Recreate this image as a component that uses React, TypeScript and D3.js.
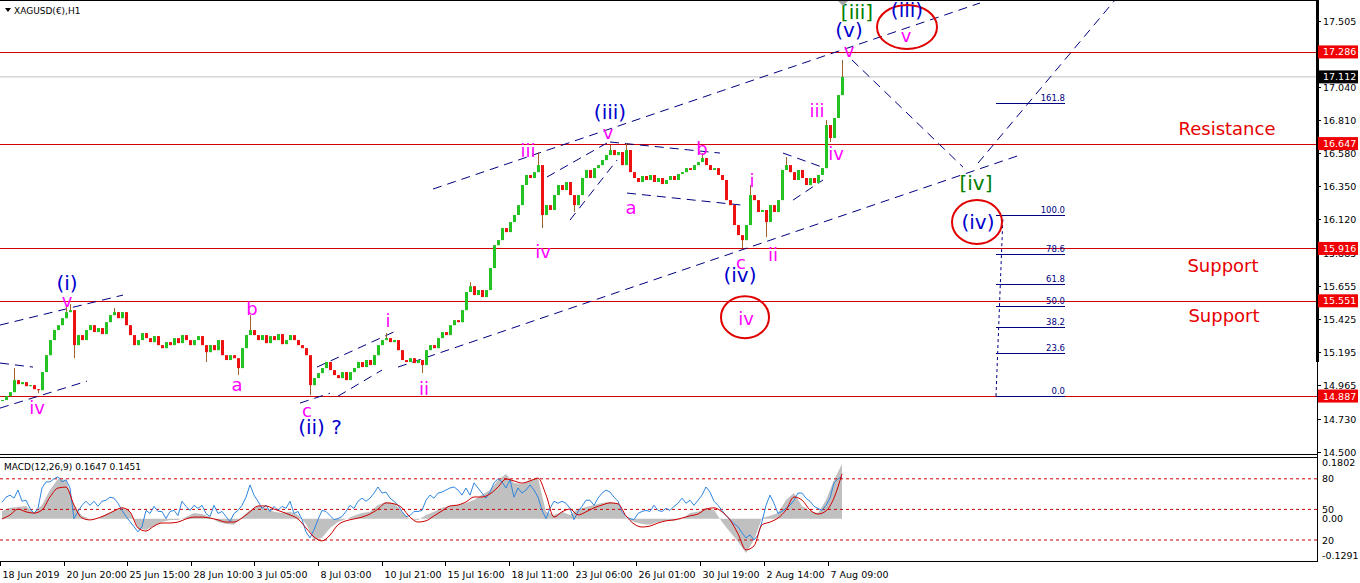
import React from "react";
import * as d3 from "d3";

// ---------- DATA ----------
const closes = [
  14.859,14.886,14.914,14.998,14.970,14.984,14.956,14.963,14.935,14.928,
  15.054,15.172,15.277,15.347,15.381,15.430,15.472,15.486,15.242,15.312,
  15.277,15.347,15.381,15.333,15.361,15.319,15.402,15.451,15.472,15.430,
  15.472,15.381,15.312,15.242,15.277,15.326,15.291,15.263,15.305,15.242,
  15.221,15.263,15.242,15.291,15.256,15.312,15.277,15.242,15.277,15.305,
  15.242,15.193,15.242,15.207,15.277,15.172,15.138,15.172,15.151,15.082,
  15.221,15.312,15.347,15.312,15.277,15.312,15.256,15.305,15.277,15.319,
  15.249,15.277,15.312,15.277,15.242,15.221,15.172,14.963,15.012,15.047,
  15.082,15.124,15.068,15.033,15.012,15.054,14.998,15.054,15.082,15.124,
  15.089,15.138,15.103,15.172,15.242,15.277,15.291,15.263,15.277,15.207,
  15.138,15.124,15.151,15.117,15.138,15.103,15.207,15.242,15.221,15.291,
  15.333,15.312,15.381,15.416,15.402,15.486,15.612,15.653,15.591,15.626,
  15.577,15.626,15.779,15.939,15.974,16.058,16.030,16.100,16.149,16.218,
  16.358,16.428,16.407,16.448,16.497,16.149,16.218,16.184,16.288,16.358,
  16.323,16.379,16.288,16.218,16.288,16.407,16.463,16.407,16.476,16.497,
  16.532,16.567,16.602,16.567,16.588,16.497,16.602,16.448,16.407,16.379,
  16.421,16.393,16.428,16.379,16.407,16.365,16.393,16.421,16.393,16.435,
  16.448,16.476,16.463,16.497,16.518,16.546,16.497,16.463,16.476,16.428,
  16.393,16.253,16.218,16.079,16.009,15.974,16.079,16.288,16.253,16.170,
  16.184,16.100,16.218,16.170,16.253,16.463,16.497,16.448,16.393,16.463,
  16.407,16.358,16.407,16.372,16.428,16.476,16.776,16.686,16.825,16.985,
  17.112,
];

// [bar index, high, low] for bars whose wick reaches beyond the body
const spikes: [number, number | null, number | null][] = [
  [3, 15.082, null], [9, null, 14.907], [16, 15.521, null], [17, 15.528, null],
  [18, null, 15.151], [28, 15.500, null], [51, null, 15.124], [59, null, 15.033],
  [62, 15.451, null], [77, null, 14.893], [96, 15.326, null], [105, null, 15.047],
  [117, 15.681, null], [134, 16.588, null], [135, null, 16.058], [143, null, 16.170],
  [152, 16.637, null], [156, 16.651, null], [175, 16.581, null], [185, null, 15.918],
  [187, 16.358, null], [191, null, 15.995], [196, 16.553, null], [206, 16.811, null],
  [207, null, 16.658], [210, 17.230, null],
];

const priceLevels = [17.286, 16.647, 15.916, 15.551, 14.887];
const currentPrice = 17.112;
const priceTicks = [17.505, 17.275, 17.040, 16.810, 16.580, 16.350, 16.120, 15.885, 15.655, 15.425, 15.195, 14.965, 14.730, 14.500];
const priceTickLabels = ["17.505", "17.275", "17.040", "16.810", "16.580", "16.350", "16.120", "15.885", "15.655", "15.425", "15.195", "14.965", "14.730", "14.500"];

const timeTickIdx = [-0.5, 15.5, 31.25, 47.25, 63, 79, 95, 110.75, 126.75, 142.75, 158.5, 174.5, 190.5, 206.5];
const timeTickLabels = ["18 Jun 2019", "20 Jun 20:00", "25 Jun 15:00", "28 Jun 10:00", "3 Jul 05:00", "8 Jul 03:00", "10 Jul 21:00", "15 Jul 16:00", "18 Jul 11:00", "23 Jul 06:00", "26 Jul 01:00", "30 Jul 19:00", "2 Aug 14:00", "7 Aug 09:00"];

// MACD histogram & signal, one value every 2 bars
const macdHist = [
  0.025,0.035,0.038,0.041,0.018,0.044,0.093,0.128,0.125,0.044,
  0.009,-0.001,-0.001,0.015,0.025,0.035,0.022,-0.030,-0.037,-0.024,
  -0.011,-0.004,-0.004,0.005,0.018,0.015,0.005,-0.011,-0.017,-0.020,
  0.005,0.028,0.041,0.035,0.022,0.018,0.022,0.012,-0.017,-0.069,
  -0.062,-0.030,-0.011,-0.001,0.009,0.018,0.022,0.044,0.054,0.051,
  0.022,-0.001,-0.004,0.012,0.022,0.035,0.041,0.044,0.051,0.060,
  0.077,0.093,0.125,0.144,0.115,0.112,0.125,0.131,0.022,0.012,
  0.022,0.012,0.031,0.038,0.044,0.051,0.054,0.048,0.002,-0.011,
  -0.017,-0.020,-0.011,-0.007,-0.007,-0.001,0.018,0.022,0.035,0.028,
  -0.011,-0.043,-0.075,-0.111,-0.069,0.002,0.009,0.018,0.060,0.083,
  0.041,0.025,0.018,0.060,0.125,0.177,
];
const macdSignal = [
  -0.001,0.012,0.031,0.022,0.018,0.028,0.070,0.099,0.102,0.044,
  0.002,-0.004,0.002,0.012,0.025,0.035,0.022,-0.030,-0.040,-0.024,
  -0.014,-0.014,-0.011,-0.001,0.005,0.005,0.002,-0.004,-0.011,-0.011,
  0.002,0.022,0.041,0.041,0.031,0.022,0.012,-0.001,-0.030,-0.059,
  -0.072,-0.053,-0.020,-0.007,-0.001,0.005,0.015,0.031,0.051,0.048,
  0.035,0.005,-0.011,-0.007,0.009,0.025,0.041,0.044,0.054,0.070,
  0.070,0.080,0.102,0.128,0.122,0.115,0.122,0.131,0.077,0.005,
  0.022,0.031,0.012,0.022,0.035,0.044,0.051,0.048,0.009,-0.017,
  -0.027,-0.024,-0.014,-0.007,-0.004,0.002,0.009,0.015,0.031,0.035,
  0.022,-0.004,-0.049,-0.101,-0.088,-0.020,-0.011,0.002,0.028,0.070,
  0.060,0.028,0.015,0.025,0.067,0.145,
];
// fast oscillator line (0-100 scale), one value per bar
const blueLine = [
  57,62,64,61,69,58,59,51,46,51,71,77,77,80,82,77,79,71,41,48,
  54,58,54,58,53,58,59,62,61,56,49,43,38,33,28,33,49,46,53,48,
  48,41,48,49,44,58,53,49,54,51,54,46,43,54,46,48,43,38,46,49,
  54,62,74,64,58,51,54,48,53,49,53,51,58,46,48,40,28,22,30,40,
  49,48,44,40,41,43,48,54,51,58,61,58,61,66,72,66,67,61,58,54,
  48,43,44,48,48,49,59,64,61,66,67,69,71,72,69,64,71,64,76,71,
  66,61,67,76,80,77,71,79,62,71,66,69,74,69,62,49,41,51,58,56,
  58,56,51,40,48,53,59,59,54,61,66,69,67,62,58,48,43,41,40,46,
  48,49,48,54,49,48,51,49,53,56,61,56,59,54,59,64,72,67,58,54,
  49,44,40,36,33,27,22,25,20,25,38,54,64,56,46,48,51,54,59,66,
  66,61,58,53,51,49,54,61,76,80,82,
];
const oscLevels = [80, 50, 20];
const macdMax = 0.1802;
const macdMin = -0.1291;

// Fibonacci
const fibLow = 14.887;
const fibHigh = 16.149;
const fibLevels = [0, 23.6, 38.2, 50, 61.8, 78.6, 100, 161.8];
const fibBarStart = 248.5;
const fibBarEnd = 265.75;
const fibBarTop = 250.25;

// Trend lines: [bar1, price1, bar2, price2]
const trendLines: [number, number, number, number][] = [
  [107.75, 16.330, 244.5, 17.627],
  [99, 15.089, 254.5, 16.567],
  [212.5, 17.230, 240.25, 16.483],
  [244, 16.511, 278.25, 17.648],
  [-0.5, 15.117, 7.75, 15.089],
  [-0.5, 15.382, 30.25, 15.591],
  [-0.5, 14.803, 21.25, 14.991],
  [74.5, 14.838, 82, 14.907],
  [78.75, 15.089, 99, 15.347],
  [84, 14.886, 95, 15.068],
  [136.25, 16.414, 151.25, 16.651],
  [142, 16.114, 153.75, 16.532],
  [152, 16.658, 179.5, 16.581],
  [156.25, 16.302, 185, 16.218],
  [195.25, 16.581, 205.75, 16.476],
  [197.75, 16.253, 205.25, 16.393],
];

// Wave labels: [bar, price, text, kind]
const waveLabels: [number, number, string, string][] = [
  [8.75, 14.810, "iv", "m"], [16.25, 15.556, "v", "m"], [58.75, 14.970, "a", "m"],
  [62.5, 15.500, "b", "m"], [76.25, 14.789, "c", "m"], [96.5, 15.416, "i", "m"],
  [105.5, 14.942, "ii", "m"], [131.5, 16.602, "iii", "m"], [135.25, 15.898, "iv", "m"],
  [151.5, 16.721, "v", "m"], [157.25, 16.204, "a", "m"], [175, 16.616, "b", "m"],
  [184.75, 15.821, "c", "m"], [187.5, 16.393, "i", "m"], [192.75, 15.877, "ii", "m"],
  [203.75, 16.881, "iii", "m"], [208.5, 16.581, "iv", "m"], [211.75, 17.299, "v", "m"],
  [226, 17.404, "v", "m"], [186, 15.430, "iv", "m"],
  [16.25, 15.675, "(i)", "b"], [79.5, 14.670, "(ii) ?", "b"], [152, 16.867, "(iii)", "b"],
  [184.5, 15.730, "(iv)", "b"], [211.75, 17.439, "(v)", "b"], [226.25, 17.578, "(iii)", "b"],
  [244, 16.100, "(iv)", "b"],
  [213.75, 17.564, "[iii]", "g"], [243.5, 16.372, "[iv]", "g"],
];
const circles: [number, number, number, number][] = [
  [185.75, 15.437, 24, 21],
  [226.25, 17.460, 30, 22],
  [243.75, 16.100, 25, 22],
];
const zoneLabels: [number, number, string][] = [
  [306.25, 16.755, "Resistance"],
  [305.25, 15.800, "Support"],
  [305.5, 15.451, "Support"],
];

// ---------- CHART ----------
const FONT = "DejaVu Sans, Verdana, sans-serif";
const RIGHT = 1317;
const MAIN_BOTTOM = 454;
const SUB_TOP = 457;
const SUB_BOTTOM = 561;

export default function App() {
  const xS = d3.scaleLinear().domain([0, 210]).range([2, 842]);
  const yS = d3.scaleLinear().domain([14.483, 17.648]).range([MAIN_BOTTOM, 0]);
  const mS = d3.scaleLinear().domain([macdMin, macdMax]).range([558.6, 462.9]);
  const lS = d3.scaleLinear().domain([0, 100]).range([560.4, 458.4]);

  const spikeMap = new Map(spikes.map((s) => [s[0], s]));
  const candles = closes.map((c, i) => {
    const o = i === 0 ? closes[0] : closes[i - 1];
    const s = spikeMap.get(i);
    const h = Math.max(o, c, s && s[1] != null ? s[1] : -Infinity);
    const l = Math.min(o, c, s && s[2] != null ? s[2] : Infinity);
    return { i, o, c, h, l };
  });

  const histArea = d3
    .area<number>()
    .x((_, k) => xS(k * 2))
    .y0(mS(0))
    .y1((v) => mS(v));
  const sigLine = d3
    .line<number>()
    .x((_, k) => xS(k * 2))
    .y((v) => mS(v))
    .curve(d3.curveMonotoneX);
  const blueL = d3
    .line<number>()
    .x((_, k) => xS(k))
    .y((v) => lS(v));

  const fibPrice = (lv: number) => fibLow + ((fibHigh - fibLow) * lv) / 100;

  const labelColor: Record<string, string> = { m: "#ff00ff", b: "#0000cd", g: "#008000" };
  const labelSize: Record<string, number> = { m: 18, b: 20, g: 20 };

  return (
    <svg
      width={1360}
      height={583}
      style={{ position: "absolute", left: 0, top: 0, background: "#fff" }}
      fontFamily={FONT}
    >
      <defs>
        <clipPath id="mainClip">
          <rect x={0} y={0} width={RIGHT} height={MAIN_BOTTOM} />
        </clipPath>
        <clipPath id="subClip">
          <rect x={0} y={SUB_TOP} width={RIGHT} height={SUB_BOTTOM - SUB_TOP} />
        </clipPath>
      </defs>
      <rect x={0} y={0} width={1360} height={583} fill="#fff" />

      <g clipPath="url(#mainClip)">
        {/* current price line */}
        <line x1={0} x2={RIGHT} y1={yS(currentPrice)} y2={yS(currentPrice)} stroke="#c0c0c0" />
        {/* horizontal levels */}
        {priceLevels.map((p) => (
          <line key={p} x1={0} x2={RIGHT} y1={Math.round(yS(p)) + 0.5} y2={Math.round(yS(p)) + 0.5} stroke="#d00000" />
        ))}
        {/* trend lines */}
        {trendLines.map((t, k) => (
          <line
            key={k}
            x1={xS(t[0])}
            y1={yS(t[1])}
            x2={xS(t[2])}
            y2={yS(t[3])}
            stroke="#000080"
            strokeWidth={1}
            strokeDasharray="9,6"
          />
        ))}
        {/* candles */}
        {candles.map((d) => {
          const x = xS(d.i);
          const up = d.c >= d.o;
          const yt = yS(Math.max(d.o, d.c));
          const yb = yS(Math.min(d.o, d.c));
          return (
            <g key={d.i}>
              <line x1={x + 0.5} x2={x + 0.5} y1={yS(d.h)} y2={yS(d.l)} stroke="#a0622d" />
              <rect x={x - 1} y={yt} width={3} height={Math.max(1, yb - yt)} fill={up ? "#22c322" : "#ee1111"} />
            </g>
          );
        })}
        {/* fibonacci */}
        <line
          x1={xS(fibBarStart)}
          y1={yS(fibPrice(0))}
          x2={xS(fibBarTop)}
          y2={yS(fibPrice(100))}
          stroke="#000080"
          strokeDasharray="3,3"
        />
        {fibLevels.map((lv) => {
          const y = Math.round(yS(fibPrice(lv))) + 0.5;
          return (
            <g key={lv}>
              <line x1={xS(fibBarStart)} x2={xS(fibBarEnd)} y1={y} y2={y} stroke="#000080" />
              <text x={xS(fibBarEnd)} y={y - 3} textAnchor="end" fontSize={8.5} fill="#000080">
                {lv.toFixed(1)}
              </text>
            </g>
          );
        })}
        {/* circles */}
        {circles.map((c, k) => (
          <ellipse key={k} cx={xS(c[0])} cy={yS(c[1])} rx={c[2]} ry={c[3]} fill="none" stroke="#e00000" strokeWidth={2} />
        ))}
        {/* wave labels */}
        {waveLabels.map((l, k) => (
          <text
            key={k}
            x={xS(l[0])}
            y={yS(l[1])}
            textAnchor="middle"
            dominantBaseline="central"
            fontSize={labelSize[l[3]]}
            fill={labelColor[l[3]]}
          >
            {l[2]}
          </text>
        ))}
        {zoneLabels.map((z, k) => (
          <text key={k} x={xS(z[0])} y={yS(z[1])} textAnchor="middle" dominantBaseline="central" fontSize={18} fill="#e60000">
            {z[2]}
          </text>
        ))}
        {/* chart shift marker */}
        <polygon
          points={`${xS(210) - 5},0 ${xS(210) + 7},0 ${xS(210) + 1},6`}
          fill="#a8a8a8"
        />
      </g>

      {/* title */}
      <polygon points="5,8 11,8 8,12" fill="#000" />
      <text x={14} y={11} dominantBaseline="central" fontSize={9} fill="#000">
        XAGUSD(€),H1
      </text>

      {/* MACD sub-window */}
      <g clipPath="url(#subClip)">
        <path d={histArea(macdHist) || ""} fill="#c0c0c0" />
        {oscLevels.map((lv) => (
          <line key={lv} x1={0} x2={RIGHT} y1={lS(lv)} y2={lS(lv)} stroke="#cc0000" strokeDasharray="3,3" />
        ))}
        <path d={blueL(blueLine) || ""} fill="none" stroke="#2f86e0" strokeWidth={1} />
        <path d={sigLine(macdSignal) || ""} fill="none" stroke="#d00000" strokeWidth={1} />
      </g>
      <text x={4} y={467} dominantBaseline="central" fontSize={9} fill="#000">
        MACD(12,26,9) 0.1647 0.1451
      </text>

      {/* frames */}
      <line x1={0} x2={RIGHT} y1={0.5} y2={0.5} stroke="#000" />
      <line x1={0} x2={RIGHT} y1={MAIN_BOTTOM + 0.5} y2={MAIN_BOTTOM + 0.5} stroke="#000" />
      <line x1={0} x2={RIGHT} y1={SUB_TOP + 0.5} y2={SUB_TOP + 0.5} stroke="#000" />
      <line x1={0} x2={RIGHT} y1={SUB_BOTTOM + 0.5} y2={SUB_BOTTOM + 0.5} stroke="#000" />
      <line x1={RIGHT + 0.5} x2={RIGHT + 0.5} y1={0} y2={SUB_BOTTOM + 1} stroke="#000" />
      <rect x={RIGHT - 1} y={0} width={3} height={362} fill="#000" />

      {/* price axis */}
      {priceTicks.map((p, k) => {
        const y = Math.round(yS(p)) + 0.5;
        return (
          <g key={p}>
            <line x1={RIGHT} x2={RIGHT + 4} y1={y} y2={y} stroke="#000" />
            <text x={RIGHT + 6} y={y} dominantBaseline="central" fontSize={9.5} fill="#000">
              {priceTickLabels[k]}
            </text>
          </g>
        );
      })}
      {priceLevels.map((p) => {
        const y = yS(p);
        return (
          <g key={p}>
            <rect x={RIGHT + 1} y={y - 6.5} width={40} height={13} fill="#f00000" />
            <text x={RIGHT + 6} y={y} dominantBaseline="central" fontSize={9.5} fill="#fff">
              {p.toFixed(3)}
            </text>
          </g>
        );
      })}
      <rect x={RIGHT + 1} y={yS(currentPrice) - 6.5} width={40} height={13} fill="#000" />
      <text x={RIGHT + 6} y={yS(currentPrice)} dominantBaseline="central" fontSize={9.5} fill="#fff">
        {currentPrice.toFixed(3)}
      </text>

      {/* MACD axis */}
      {[macdMax, 0, macdMin].map((v, k) => (
        <text key={k} x={RIGHT + 5} y={Math.min(mS(v), 555)} dominantBaseline="central" fontSize={9.5} fill="#000">
          {v === 0 ? "0.00" : v.toFixed(4)}
        </text>
      ))}
      {oscLevels.map((lv) => (
        <text key={lv} x={RIGHT + 5} y={lS(lv)} dominantBaseline="central" fontSize={9.5} fill="#000">
          {lv}
        </text>
      ))}

      {/* time axis */}
      {timeTickIdx.map((t, k) => {
        const x = Math.round(xS(t)) + 0.5;
        return (
          <g key={k}>
            <line x1={x} x2={x} y1={SUB_BOTTOM} y2={SUB_BOTTOM + 5} stroke="#000" />
            <text x={x + 2} y={574} dominantBaseline="central" fontSize={9.5} fill="#000">
              {timeTickLabels[k]}
            </text>
          </g>
        );
      })}
    </svg>
  );
}
